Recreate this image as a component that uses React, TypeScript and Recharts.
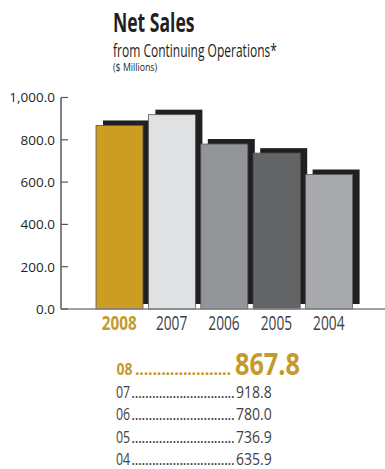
import React from "react";
import { BarChart, Bar, XAxis, YAxis } from "recharts";

const years = ["2008", "2007", "2006", "2005", "2004"];
const sales = [867.8, 918.8, 780.0, 736.9, 635.9];
const yTicks = [0, 200, 400, 600, 800, 1000];
const tableLabels = ["08", "07", "06", "05", "04"];

const barColors = ["#cc9d22", "#e0e1e3", "#939598", "#636466", "#a8aaad"];
const GOLD = "#c49a2c";
const DARK = "#231f20";
const TEXT = "#414042";
const FONT = "'Open Sans', sans-serif";

const data = years.map((y, i) => ({ year: y, value: sales[i] }));

const BarShape = (props: any) => {
  const { x, y, width, height, index } = props;
  return (
    <g>
      <rect x={x + 7} y={y - 5} width={width} height={height} fill={DARK} />
      <rect
        x={x}
        y={y}
        width={width}
        height={height}
        fill={barColors[index]}
        stroke="#58595b"
        strokeWidth={0.8}
      />
    </g>
  );
};

const YTick = (props: any) => {
  const { x, y, payload } = props;
  const label = Number(payload.value).toLocaleString("en-US", {
    minimumFractionDigits: 1,
    maximumFractionDigits: 1,
  });
  return (
    <g>
      <line x1={x + 6} x2={x + 13} y1={y} y2={y} stroke="#58595b" strokeWidth={1.2} />
      <text x={x} y={y} dy={4.8} textAnchor="end" fontSize={13.5} fontFamily={FONT} fill={DARK}>
        {label}
      </text>
    </g>
  );
};

const XTick = (props: any) => {
  const { x, y, payload, index } = props;
  const first = index === 0;
  const sx = first ? 0.78 : 0.7;
  return (
    <text
      transform={`translate(${x} ${y + 18.5}) scale(${sx} 1)`}
      x={0}
      y={0}
      textAnchor="middle"
      fontSize={19.6}
      fontFamily={FONT}
      fontWeight={first ? "bold" : "normal"}
      fill={first ? GOLD : TEXT}
    >
      {payload.value}
    </text>
  );
};

type TProps = {
  x: number;
  y: number;
  size: number;
  sx: number;
  bold?: boolean;
  color: string;
  children: React.ReactNode;
};

const T = ({ x, y, size, sx, bold, color, children }: TProps) => (
  <text
    transform={`translate(${x} ${y}) scale(${sx} 1)`}
    x={0}
    y={0}
    fontSize={size}
    fontFamily={FONT}
    fontWeight={bold ? "bold" : "normal"}
    fill={color}
  >
    {children}
  </text>
);

export default function App() {
  return (
    <div
      style={{
        position: "absolute",
        left: 0,
        top: 0,
        width: 385,
        height: 469,
        background: "#fff",
      }}
    >
      <div style={{ position: "absolute", left: 0, top: 0 }}>
        <BarChart
          width={385}
          height={340}
          data={data}
          margin={{ top: 97.5, right: 0, bottom: 0, left: 0 }}
        >
          <YAxis
            width={61}
            domain={[0, 1000]}
            ticks={yTicks}
            tickSize={0}
            tickMargin={6}
            tickLine={false}
            axisLine={{ stroke: "#58595b", strokeWidth: 1.5 }}
            tick={<YTick />}
            interval={0}
          />
          <XAxis
            dataKey="year"
            height={31}
            padding={{ left: 32, right: 30 }}
            tickLine={false}
            tickSize={0}
            tickMargin={2}
            axisLine={{ stroke: "#808285", strokeWidth: 1.5 }}
            tick={<XTick />}
            interval={0}
          />
          <Bar dataKey="value" barSize={47} shape={<BarShape />} isAnimationActive={false} />
        </BarChart>
      </div>

      <svg
        width={385}
        height={469}
        style={{ position: "absolute", left: 0, top: 0, pointerEvents: "none" }}
      >
        <T x={113} y={32} size={26.6} sx={0.66} bold color={DARK}>
          Net Sales
        </T>
        <T x={113} y={56.7} size={17.8} sx={0.675} color={DARK}>
          from Continuing Operations*
        </T>
        <T x={113} y={71} size={10} sx={0.88} color={DARK}>
          ($ Millions)
        </T>

        {tableLabels.map((lab, i) => {
          const first = i === 0;
          const value = sales[i].toFixed(1);
          if (first) {
            return (
              <g key={lab}>
                <T x={116.5} y={375} size={16.8} sx={0.83} bold color={GOLD}>
                  {lab}
                </T>
                <text
                  x={135}
                  y={375}
                  fontSize={16}
                  fontFamily={FONT}
                  fontWeight="bold"
                  fill={GOLD}
                  textLength={96}
                  lengthAdjust="spacing"
                >
                  {".".repeat(22)}
                </text>
                <T x={235} y={374.5} size={30.8} sx={0.82} bold color={GOLD}>
                  {value}
                </T>
              </g>
            );
          }
          const b = 398 + (i - 1) * 22.3;
          return (
            <g key={lab}>
              <T x={116} y={b} size={16.3} sx={0.76} color={TEXT}>
                {lab}
              </T>
              <text
                x={131}
                y={b}
                fontSize={16}
                fontFamily={FONT}
                fill={TEXT}
                textLength={104}
                lengthAdjust="spacing"
              >
                {".".repeat(30)}
              </text>
              <T x={236} y={b} size={16.3} sx={0.86} color={TEXT}>
                {value}
              </T>
            </g>
          );
        })}
      </svg>
    </div>
  );
}
